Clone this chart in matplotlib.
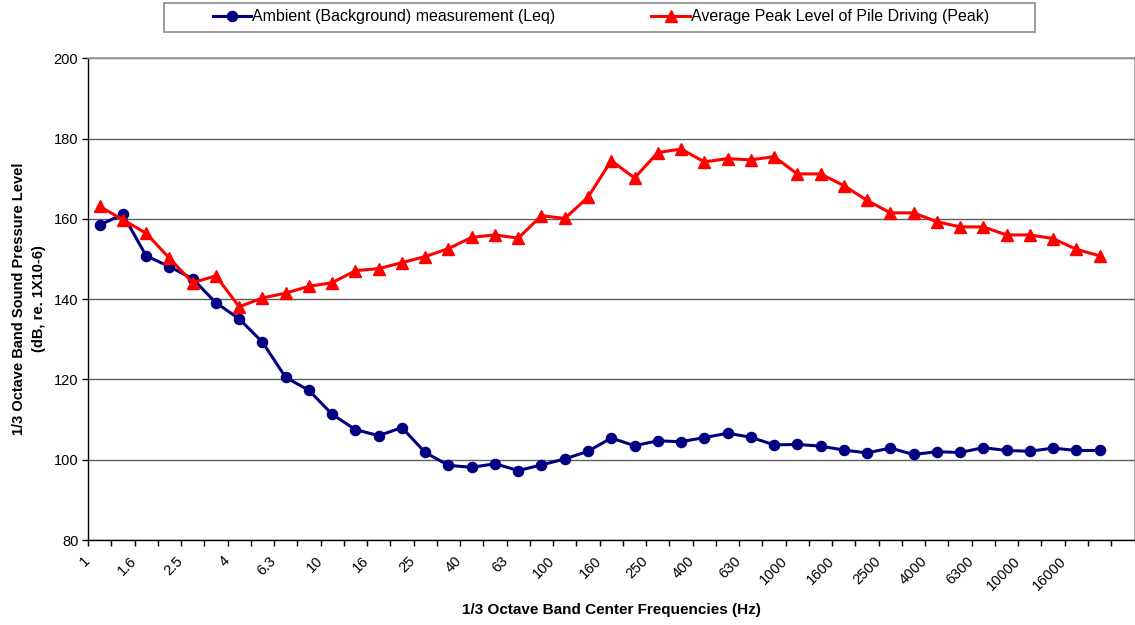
import numpy as np
import matplotlib
matplotlib.use("Agg")
import matplotlib.pyplot as plt
from matplotlib.patches import Rectangle
from matplotlib.transforms import ScaledTranslation

plt.rcParams['font.family'] = ['Liberation Sans', 'DejaVu Sans']

# 1/3 octave band centre frequencies (Hz)
bands = ["1", "1.25", "1.6", "2", "2.5", "3.15", "4", "5", "6.3", "8",
         "10", "12.5", "16", "20", "25", "31.5", "40", "50", "63", "80",
         "100", "125", "160", "200", "250", "315", "400", "500", "630", "800",
         "1000", "1250", "1600", "2000", "2500", "3150", "4000", "5000", "6300", "8000",
         "10000", "12500", "16000", "20000"]

ambient_leq = [158.5, 161.1, 150.8, 148.1, 145.1, 139.1, 135.1, 129.3, 120.5, 117.3,
               111.3, 107.5, 106.0, 108.0, 101.8, 98.6, 98.1, 99.0, 97.3, 98.7,
               100.2, 102.1, 105.4, 103.5, 104.7, 104.5, 105.5, 106.6, 105.6, 103.7,
               103.8, 103.4, 102.4, 101.7, 102.9, 101.3, 102.0, 101.8, 103.0, 102.3,
               102.1, 102.9, 102.3, 102.3]

pile_peak = [163.1, 159.8, 156.4, 150.2, 144.1, 145.8, 138.1, 140.3, 141.5, 143.2,
             144.1, 147.1, 147.6, 149.1, 150.6, 152.6, 155.4, 156.0, 155.2, 160.8,
             160.1, 165.4, 174.5, 170.2, 176.5, 177.4, 174.2, 175.0, 174.7, 175.5,
             171.2, 171.2, 168.3, 164.6, 161.5, 161.5, 159.3, 158.0, 158.0, 156.0,
             156.0, 155.1, 152.4, 150.8]

label_bands = bands[::2]
n_slots = len(bands) + 1   # chart keeps one empty category at the right

fig = plt.figure(figsize=(11.35, 6.25), dpi=100)
ax = fig.add_axes([88 / 1135, 1 - 540 / 625, (1134.5 - 88) / 1135, (540 - 58.3) / 625])

x = np.arange(len(bands))
ax.plot(x, ambient_leq, color='#000080', lw=2.2, marker='o', ms=7.3,
        label='Ambient (Background) measurement (Leq)', zorder=3)
ax.plot(x, pile_peak, color='#FF0000', lw=2.2, marker='^', ms=8.3,
        label='Average Peak Level of Pile Driving (Peak)', zorder=3)

ax.set_xlim(-0.5, n_slots - 0.5)
ax.set_ylim(80, 200)
ax.set_yticks(np.arange(80, 201, 20))
ax.yaxis.grid(True, color='#5f5f5f', lw=1.0)
ax.set_axisbelow(True)

# tick marks between categories, labels on every second band
ax.set_xticks(np.arange(n_slots) - 0.5)
ax.set_xticklabels([])
ax.set_xticks(x[::2], label_bands, minor=True)
ax.tick_params(axis='x', which='major', length=4, width=1, color='black', direction='out')
ax.tick_params(axis='x', which='minor', length=0, pad=10, labelsize=10.5)
ax.tick_params(axis='y', length=4, width=1, direction='out', labelsize=10.5, pad=3)
shift = ScaledTranslation(-7 / 100, 0, fig.dpi_scale_trans)
for lbl in ax.get_xticklabels(minor=True):
    lbl.set_rotation(45)
    lbl.set_ha('right')
    lbl.set_va('top')
    lbl.set_transform(lbl.get_transform() + shift)

for s in ['left', 'bottom']:
    ax.spines[s].set_color('black')
    ax.spines[s].set_linewidth(1.0)
for s in ['top', 'right']:
    ax.spines[s].set_color('#9a9a9a')
    ax.spines[s].set_linewidth(1.2)

fig.text(611 / 1135, 1 - 610 / 625, '1/3 Octave Band Center Frequencies (Hz)',
         ha='center', va='center', fontsize=11, fontweight='bold')
fig.text(29 / 1135, 1 - 299 / 625, '1/3 Octave Band Sound Pressure Level\n(dB, re. 1X10-6)',
         ha='center', va='center', rotation=90, fontsize=10.5, fontweight='bold',
         multialignment='center', linespacing=1.6)

leg = fig.legend(loc='center', bbox_to_anchor=(601 / 1135, 1 - 17 / 625), ncol=2,
                 frameon=False, fontsize=11.5, handlelength=2.4, handletextpad=0.08,
                 columnspacing=6.0, borderaxespad=0)
fig.patches.append(Rectangle((164 / 1135, 1 - 31.5 / 625), (1035 - 164) / 1135, 29 / 625,
                             transform=fig.transFigure, fill=False, edgecolor='#8a8a8a', lw=1.2))

fig.savefig('out.png', dpi=100)
